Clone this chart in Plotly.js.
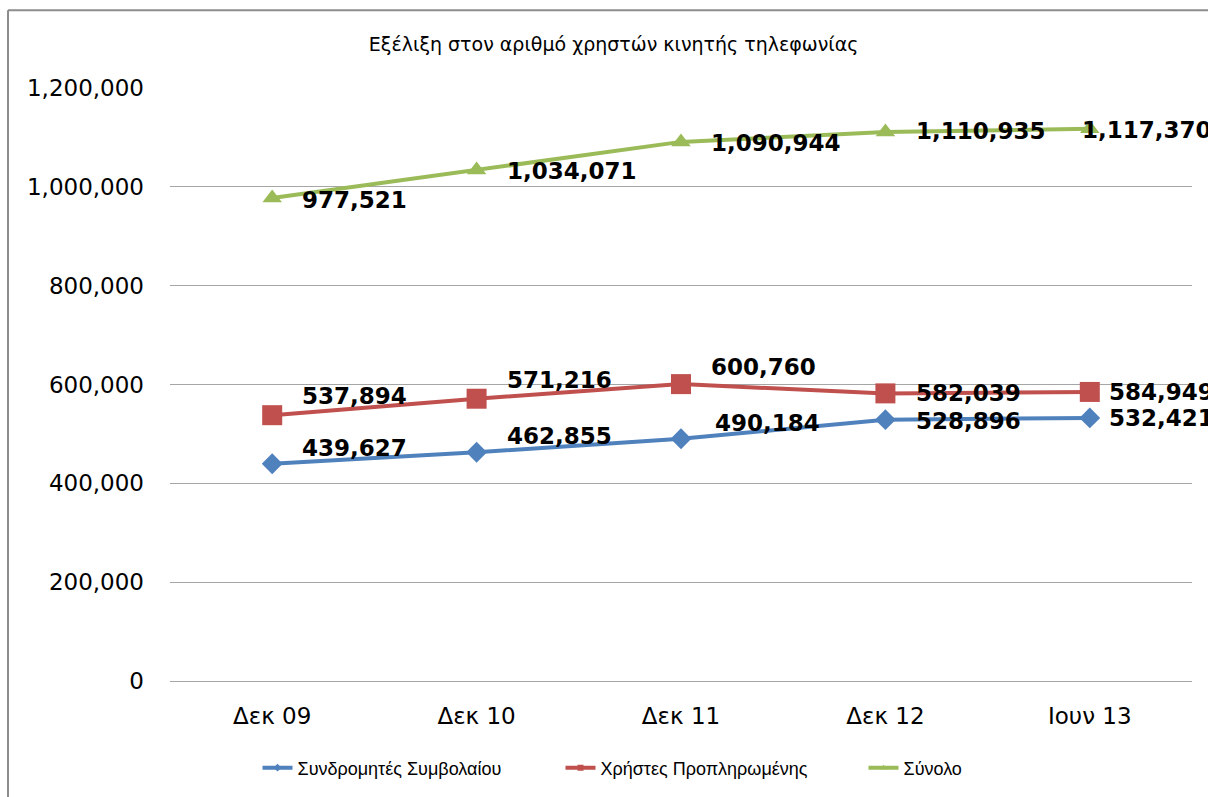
<!DOCTYPE html>
<html>
<head>
<meta charset="utf-8">
<script src="https://cdn.plot.ly/plotly-3.0.1.min.js"></script>
<style>html,body{margin:0;padding:0;background:#fff;}#chart{width:1208px;height:797px;}</style>
</head>
<body>
<div id="chart"></div>
<script>
const categories = ["Δεκ 09", "Δεκ 10", "Δεκ 11", "Δεκ 12", "Ιουν 13"];
const contractValues = [439627, 462855, 490184, 528896, 532421];
const prepaidValues = [537894, 571216, 600760, 582039, 584949];
const totalValues = [977521, 1034071, 1090944, 1110935, 1117370];
const seriesNames = ["Συνδρομητές Συμβολαίου", "Χρήστες Προπληρωμένης", "Σύνολο"];
const yTickValues = [0, 200000, 400000, 600000, 800000, 1000000, 1200000];
const titleText = "Εξέλιξη στον αριθμό χρηστών κινητής τηλεφωνίας";

// label placement (style only)
const labelShiftX = {
  contract: [28, 28, 32, 29, 17],
  prepaid: [28, 28, 28, 29, 17],
  total: [28, 28, 28, 29, -10]
};
const labelShiftY = {
  contract: [16, 16, 16, -1, 0],
  prepaid: [19, 19, 17, 0, 0],
  total: [-2, -1, -1, 1, -1]
};

const colors = {contract: "#4F81BD", prepaid: "#C0504D", total: "#9BBB59"};
const symbols = {contract: "diamond", prepaid: "square", total: "triangle-up"};
const markerSizes = {contract: 16, prepaid: 20, total: 17};
const fmt = v => v.toLocaleString("en-US");

const seriesList = [["contract", contractValues, seriesNames[0]], ["prepaid", prepaidValues, seriesNames[1]], ["total", totalValues, seriesNames[2]]];

const traces = [];
seriesList.forEach(([key, vals, name]) => {
  traces.push({x: categories, y: vals, name: name, type: "scatter", mode: "lines+markers", showlegend: false,
    line: {color: colors[key], width: 4}, marker: {symbol: symbols[key], size: markerSizes[key], color: colors[key]}});
});
// legend entries with small markers, as in the reference
seriesList.forEach(([key, vals, name]) => {
  traces.push({x: [null], y: [null], name: name, type: "scatter", mode: "lines+markers", showlegend: true,
    line: {color: colors[key], width: 4}, marker: {symbol: symbols[key], size: 6, color: colors[key]}});
});

const annotations = [];
seriesList.forEach(([key, vals]) => {
  vals.forEach((v, i) => {
    annotations.push({
      x: categories[i], y: v, xref: "x", yref: "y", text: fmt(v), showarrow: false,
      xanchor: "left", yanchor: "middle", xshift: labelShiftX[key][i], yshift: labelShiftY[key][i],
      font: {family: "DejaVu Sans", size: 23, color: "#000", weight: "bold"}
    });
  });
});

const L = 170, W = 1022, T = 88, H = 594;
const px = x => (x - L) / W;
const py = y => (T + H - y) / H;

const layout = {
  width: 1208, height: 797,
  margin: {l: L, r: 1208 - L - W, t: T, b: 797 - T - H},
  paper_bgcolor: "#fff", plot_bgcolor: "#fff",
  font: {family: "DejaVu Sans", color: "#000"},
  title: {text: titleText, x: 0.508, xanchor: "center", y: 1 - 44 / 797, yanchor: "middle",
          font: {family: "DejaVu Sans", size: 19, color: "#000"}},
  xaxis: {type: "category", range: [-0.5, 4.5], showgrid: false, showline: true, linecolor: "#A6A6A6",
          linewidth: 1, ticks: "", ticklabelstandoff: 14, tickfont: {family: "DejaVu Sans", size: 23}, fixedrange: true},
  yaxis: {range: [0, 1200000], tickvals: yTickValues, ticktext: yTickValues.map(fmt),
          showgrid: true, gridcolor: "#A6A6A6", gridwidth: 1, zeroline: false, showline: false,
          ticks: "", ticklabelstandoff: 25, tickfont: {family: "DejaVu Sans", size: 23}, fixedrange: true},
  showlegend: true,
  legend: {orientation: "h", x: px(712), xanchor: "center", y: py(768), yanchor: "middle",
           font: {family: "Liberation Sans", size: 18, color: "#000"},
           itemwidth: 30, traceorder: "normal", entrywidth: 258, entrywidthmode: "pixels"},
  annotations: annotations,
  shapes: [
    {type: "line", xref: "paper", yref: "paper", x0: px(8), x1: px(1210), y0: py(10), y1: py(10),
     line: {color: "#8C8C8C", width: 2}},
    {type: "line", xref: "paper", yref: "paper", x0: px(8), x1: px(8), y0: py(10), y1: py(800),
     line: {color: "#8C8C8C", width: 2}}
  ]
};

Plotly.newPlot("chart", traces, layout, {displayModeBar: false, staticPlot: true});
</script>
</body>
</html>
